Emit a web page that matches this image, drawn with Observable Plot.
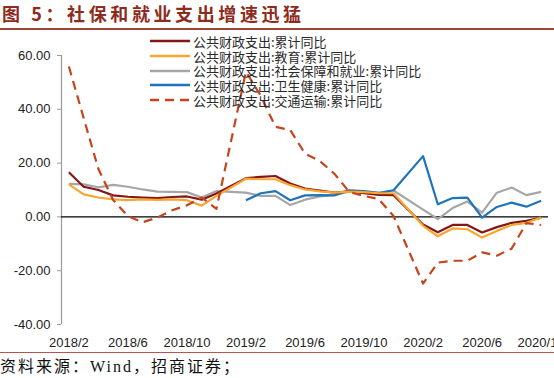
<!DOCTYPE html>
<html>
<head>
<meta charset="utf-8">
<script src="https://cdn.jsdelivr.net/npm/d3@7"></script>
<script src="https://cdn.jsdelivr.net/npm/@observablehq/plot@0.6"></script>
<style>
  html, body { margin: 0; padding: 0; background: #fff; }
  body { width: 554px; height: 378px; overflow: hidden; position: relative; font-family: "Noto Sans CJK SC", sans-serif; }
  #title { position: absolute; left: 2px; top: 3px; font-size: 18px; line-height: 20px; font-weight: bold; color: #8E2B1C; letter-spacing: 3.6px; white-space: nowrap; font-family: "Noto Sans CJK SC", sans-serif; }
  #trule { position: absolute; left: 0; top: 28px; width: 554px; height: 2px; background: #9A4535; }
  #chart { position: absolute; left: 0; top: 30px; }
  #brule { position: absolute; left: 0; top: 352px; width: 554px; height: 1px; background: #C0504D; }
  #source { position: absolute; left: 0; top: 357px; font-size: 16px; line-height: 20px; letter-spacing: 2px; color: #111; white-space: nowrap; font-family: "Liberation Serif", "Noto Sans CJK SC", serif; }
  #legend { position: absolute; left: 150px; top: 34px; font-size: 13px; color: #2a2a2a; font-family: "Noto Sans CJK SC", sans-serif; }
  #legend .row { display: flex; align-items: center; height: 14.7px; white-space: nowrap; }
  #legend .row span { line-height: 13px; display: inline-block; }
  #legend svg { margin-right: 3px; }
</style>
</head>
<body>
<div id="title">图 5：社保和就业支出增速迅猛</div>
<div id="trule"></div>
<div id="chart"></div>
<div id="legend"></div>
<div id="brule"></div>
<div id="source">资料来源：Wind，招商证券；</div>
<script>
// ---- data ----
const months = [
  "2018/2","2018/3","2018/4","2018/5","2018/6","2018/7","2018/8","2018/9","2018/10","2018/11","2018/12",
  "2019/2","2019/3","2019/4","2019/5","2019/6","2019/7","2019/8","2019/9","2019/10","2019/11","2019/12",
  "2020/2","2020/3","2020/4","2020/5","2020/6","2020/7","2020/8","2020/9","2020/10"
];
const seriesNames = [
  "公共财政支出:累计同比",
  "公共财政支出:教育:累计同比",
  "公共财政支出:社会保障和就业:累计同比",
  "公共财政支出:卫生健康:累计同比",
  "公共财政支出:交通运输:累计同比"
];
const total = [16.6, 11.2, 10.0, 8.0, 7.5, 7.2, 7.0, 7.4, 7.6, 6.4, 8.7,
               14.4, 14.9, 15.2, 12.4, 10.5, 9.8, 9.0, 9.5, 8.8, 8.2, 8.1,
               -2.8, -5.7, -3.0, -3.0, -5.8, -3.8, -2.2, -1.5, -0.3];
const education = [12.1, 8.4, 7.2, 6.5, 6.2, 6.5, 6.3, 6.5, 6.2, 4.2, 7.8,
                   14.2, 14.0, 14.0, 11.8, 10.2, 9.5, 9.0, 9.4, 9.2, 8.8, 8.8,
                   -3.3, -7.2, -4.3, -4.6, -7.7, -5.2, -3.0, -2.2, -0.2];
const social = [12.3, 12.1, 11.0, 11.9, 11.2, 10.2, 9.4, 9.3, 9.2, 7.2, 9.6,
                9.0, 7.8, 7.8, 4.4, 6.4, 7.6, 8.2, 9.4, 9.0, 8.9, 9.8,
                2.7, -0.8, 3.3, 5.7, 1.6, 9.0, 10.9, 8.1, 9.3];
const health = [null, null, null, null, null, null, null, null, null, null, null,
                6.2, 8.8, 9.6, 6.2, 8.0, 8.1, 8.0, 9.9, 9.6, 8.9, 9.9,
                22.6, 4.7, 7.0, 7.2, -0.3, 3.7, 5.3, 3.8, 6.0];
const transport = [55.9, 36.8, 17.8, 6.3, 0.3, -2.0, -0.2, 2.5, 4.3, 7.2, 3.0,
                   54.0, 45.0, 33.5, 32.3, 23.5, 20.8, 16.0, 9.3, 7.8, 6.6, 0.3,
                   -24.8, -17.0, -16.3, -16.3, -13.2, -14.4, -11.8, -2.3, -3.0];
const yTicks = [-40, -20, 0, 20, 40, 60];
const xTickLabels = ["2018/2","2018/6","2018/10","2019/2","2019/6","2019/10","2020/2","2020/6","2020/10"];

// ---- build ----
const monthIndex = s => { const [y, m] = s.split("/").map(Number); return (y - 2018) * 12 + (m - 2); };
const seriesValues = [total, education, social, health, transport];
const colors = ["#861616", "#F8A630", "#A6A6A6", "#1E74BB", "#C5441C"];
const dashes = [null, null, null, null, "9,6"];

const rows = seriesValues.map((vals, k) =>
  months.map((mo, i) => ({ t: monthIndex(mo), v: vals[i], s: seriesNames[k] })).filter(d => d.v != null)
);

const lineMark = k => Plot.line(rows[k], {
  x: "t", y: "v", stroke: colors[k], strokeWidth: 2.2,
  strokeDasharray: dashes[k] || undefined, strokeLinejoin: "round", strokeLinecap: "butt"
});

const xTickIdx = xTickLabels.map(monthIndex);
const labelOf = new Map(xTickLabels.map(l => [monthIndex(l), l]));

const chart = Plot.plot({
  width: 554, height: 320,
  marginLeft: 61, marginRight: 6, marginTop: 25, marginBottom: 26,
  style: { fontFamily: "'Liberation Sans', Arial, sans-serif", fontSize: "13px", color: "#222", background: "white", overflow: "visible" },
  x: { type: "linear", domain: [-0.5, 32.5], label: null },
  y: { domain: [-40, 60], label: null },
  marks: [
    Plot.ruleX([-0.5], { stroke: "#9a9a9a", strokeWidth: 1.2 }),
    Plot.axisY({ ticks: yTicks, tickFormat: d => d.toFixed(2), tickSize: 4, tickPadding: 7, stroke: "#9a9a9a", fill: "#222", label: null }),
    Plot.axisX({ ticks: xTickIdx, tickFormat: i => labelOf.get(i), tickSize: 0, tickPadding: 13.5, fill: "#222", label: null }),
    Plot.ruleY([0], { stroke: "#000", strokeWidth: 1.2 }),
    lineMark(2), lineMark(3), lineMark(0), lineMark(1), lineMark(4)
  ]
});
document.getElementById("chart").appendChild(chart);

// ---- legend ----
const legend = document.getElementById("legend");
seriesNames.forEach((name, k) => {
  const row = document.createElement("div");
  row.className = "row";
  row.innerHTML = `<svg width="40" height="10"><line x1="0" x2="40" y1="5" y2="5" stroke="${colors[k]}" stroke-width="2.6" ${dashes[k] ? `stroke-dasharray="${dashes[k]}"` : ""}/></svg><span>${name}</span>`;
  legend.appendChild(row);
});
</script>
</body>
</html>
